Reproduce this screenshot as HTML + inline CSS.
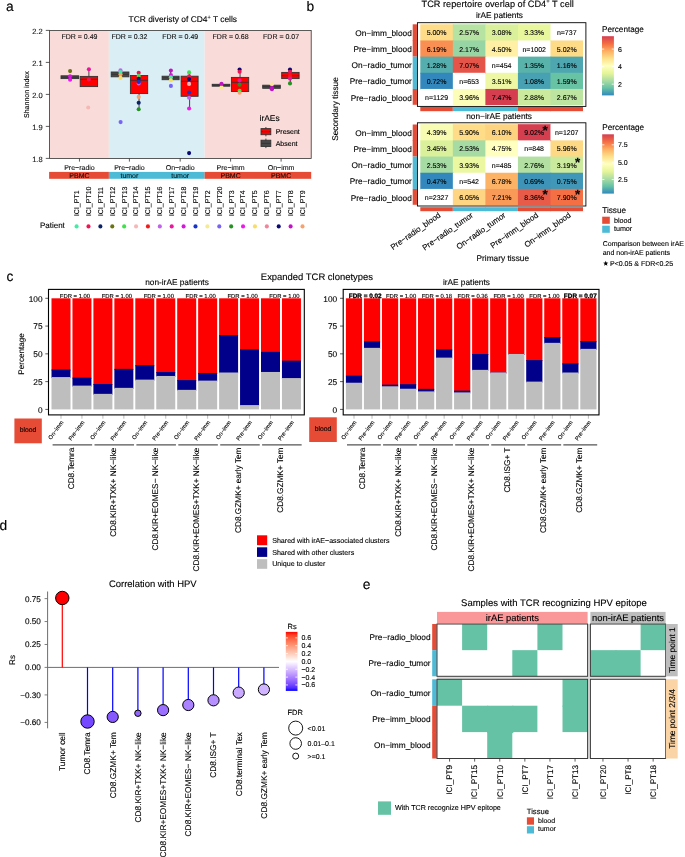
<!DOCTYPE html><html><head><meta charset="utf-8"><title>Figure</title><style>html,body{margin:0;padding:0;background:#fff;}svg{display:block;will-change:transform;text-rendering:geometricPrecision;font-family:"Liberation Sans",sans-serif;}text{stroke:#000;stroke-width:0.12px;}</style></head><body><svg width="685" height="857" viewBox="0 0 685 857"><rect x="0" y="0" width="685" height="857" fill="#fff"/><text x="6.00" y="11.40" font-size="13.8">a</text>
<text x="306.60" y="11.20" font-size="13.8">b</text>
<text x="6.40" y="281.10" font-size="13.8">c</text>
<text x="-0.60" y="530.30" font-size="13.8">d</text>
<text x="362.80" y="588.80" font-size="13.8">e</text>
<text x="182.80" y="21.90" font-size="8.42" text-anchor="middle">TCR diveristy of CD4<tspan font-size="5.5" dy="-3.2">+</tspan><tspan dy="3.2"> T cells</tspan></text>
<rect x="49.60" y="30.50" width="59.30" height="127.90" fill="#F9DCD9"/>
<rect x="108.90" y="30.50" width="95.70" height="127.90" fill="#DAEEF5"/>
<rect x="204.60" y="30.50" width="106.60" height="127.90" fill="#F9DCD9"/>
<rect x="49.60" y="30.50" width="261.60" height="127.90" fill="none" stroke="#333" stroke-width="0.8"/>
<line x1="45.80" y1="30.40" x2="49.60" y2="30.40" stroke="#333" stroke-width="0.8"/>
<text x="42.60" y="33.50" font-size="7.5" text-anchor="end" fill="#1a1a1a">2.2</text>
<line x1="45.80" y1="62.40" x2="49.60" y2="62.40" stroke="#333" stroke-width="0.8"/>
<text x="42.60" y="65.50" font-size="7.5" text-anchor="end" fill="#1a1a1a">2.1</text>
<line x1="45.80" y1="94.40" x2="49.60" y2="94.40" stroke="#333" stroke-width="0.8"/>
<text x="42.60" y="97.50" font-size="7.5" text-anchor="end" fill="#1a1a1a">2.0</text>
<line x1="45.80" y1="126.40" x2="49.60" y2="126.40" stroke="#333" stroke-width="0.8"/>
<text x="42.60" y="129.50" font-size="7.5" text-anchor="end" fill="#1a1a1a">1.9</text>
<line x1="45.80" y1="158.40" x2="49.60" y2="158.40" stroke="#333" stroke-width="0.8"/>
<text x="42.60" y="161.50" font-size="7.5" text-anchor="end" fill="#1a1a1a">1.8</text>
<text transform="translate(29.20,94.60) rotate(-90)" font-size="7.0" text-anchor="middle">Shannon index</text>
<line x1="79.45" y1="158.40" x2="79.45" y2="161.60" stroke="#333" stroke-width="0.8"/>
<text x="79.45" y="170.00" font-size="7.0" text-anchor="middle" fill="#1a1a1a">Pre−radio</text>
<line x1="129.40" y1="158.40" x2="129.40" y2="161.60" stroke="#333" stroke-width="0.8"/>
<text x="129.40" y="170.00" font-size="7.0" text-anchor="middle" fill="#1a1a1a">Pre−radio</text>
<line x1="180.20" y1="158.40" x2="180.20" y2="161.60" stroke="#333" stroke-width="0.8"/>
<text x="180.20" y="170.00" font-size="7.0" text-anchor="middle" fill="#1a1a1a">On−radio</text>
<line x1="230.60" y1="158.40" x2="230.60" y2="161.60" stroke="#333" stroke-width="0.8"/>
<text x="230.60" y="170.00" font-size="7.0" text-anchor="middle" fill="#1a1a1a">Pre−imm</text>
<line x1="281.10" y1="158.40" x2="281.10" y2="161.60" stroke="#333" stroke-width="0.8"/>
<text x="281.10" y="170.00" font-size="7.0" text-anchor="middle" fill="#1a1a1a">On−imm</text>
<rect x="49.10" y="171.90" width="59.80" height="6.90" fill="#E64B35"/>
<rect x="108.90" y="171.90" width="95.70" height="6.90" fill="#4DBBD5"/>
<rect x="204.60" y="171.90" width="106.60" height="6.90" fill="#E64B35"/>
<text x="79.45" y="177.60" font-size="7.0" text-anchor="middle" fill="#2a0a05">PBMC</text>
<text x="129.40" y="177.60" font-size="7.0" text-anchor="middle" fill="#0a2a33">tumor</text>
<text x="180.20" y="177.60" font-size="7.0" text-anchor="middle" fill="#0a2a33">tumor</text>
<text x="230.60" y="177.60" font-size="7.0" text-anchor="middle" fill="#2a0a05">PBMC</text>
<text x="281.10" y="177.60" font-size="7.0" text-anchor="middle" fill="#2a0a05">PBMC</text>
<text x="79.45" y="38.80" font-size="7.0" text-anchor="middle" fill="#1a1a1a">FDR = 0.49</text>
<text x="129.40" y="38.80" font-size="7.0" text-anchor="middle" fill="#1a1a1a">FDR = 0.32</text>
<text x="180.20" y="38.80" font-size="7.0" text-anchor="middle" fill="#1a1a1a">FDR = 0.49</text>
<text x="230.60" y="38.80" font-size="7.0" text-anchor="middle" fill="#1a1a1a">FDR = 0.68</text>
<text x="281.10" y="38.80" font-size="7.0" text-anchor="middle" fill="#1a1a1a">FDR = 0.07</text>
<rect x="61.00" y="75.80" width="17.70" height="2.80" fill="#474747" stroke="#333333" stroke-width="0.9"/>
<line x1="61.00" y1="77.20" x2="78.70" y2="77.20" stroke="#333333" stroke-width="0.9"/>
<line x1="88.90" y1="76.40" x2="88.90" y2="69.20" stroke="#333333" stroke-width="0.9"/>
<rect x="80.20" y="76.40" width="17.40" height="10.20" fill="#FF0000" stroke="#333333" stroke-width="0.9"/>
<line x1="80.20" y1="79.30" x2="97.60" y2="79.30" stroke="#333333" stroke-width="0.9"/>
<rect x="111.20" y="72.00" width="17.70" height="4.80" fill="#474747" stroke="#333333" stroke-width="0.9"/>
<line x1="111.20" y1="74.30" x2="128.90" y2="74.30" stroke="#333333" stroke-width="0.9"/>
<line x1="139.05" y1="75.50" x2="139.05" y2="72.80" stroke="#333333" stroke-width="0.9"/>
<line x1="139.05" y1="93.60" x2="139.05" y2="109.30" stroke="#333333" stroke-width="0.9"/>
<rect x="130.40" y="75.50" width="17.30" height="18.10" fill="#FF0000" stroke="#333333" stroke-width="0.9"/>
<line x1="130.40" y1="80.30" x2="147.70" y2="80.30" stroke="#333333" stroke-width="0.9"/>
<line x1="170.60" y1="76.20" x2="170.60" y2="70.60" stroke="#333333" stroke-width="0.9"/>
<rect x="162.10" y="76.20" width="17.00" height="3.50" fill="#474747" stroke="#333333" stroke-width="0.9"/>
<line x1="162.10" y1="77.80" x2="179.10" y2="77.80" stroke="#333333" stroke-width="0.9"/>
<line x1="189.60" y1="76.20" x2="189.60" y2="72.40" stroke="#333333" stroke-width="0.9"/>
<line x1="189.60" y1="96.30" x2="189.60" y2="108.50" stroke="#333333" stroke-width="0.9"/>
<rect x="181.10" y="76.20" width="17.00" height="20.10" fill="#FF0000" stroke="#333333" stroke-width="0.9"/>
<line x1="181.10" y1="81.30" x2="198.10" y2="81.30" stroke="#333333" stroke-width="0.9"/>
<rect x="212.20" y="84.30" width="17.60" height="1.90" fill="#474747" stroke="#333333" stroke-width="0.9"/>
<line x1="212.20" y1="85.20" x2="229.80" y2="85.20" stroke="#333333" stroke-width="0.9"/>
<line x1="240.05" y1="77.40" x2="240.05" y2="69.50" stroke="#333333" stroke-width="0.9"/>
<line x1="240.05" y1="91.50" x2="240.05" y2="92.80" stroke="#333333" stroke-width="0.9"/>
<rect x="231.40" y="77.40" width="17.30" height="14.10" fill="#FF0000" stroke="#333333" stroke-width="0.9"/>
<line x1="231.40" y1="82.30" x2="248.70" y2="82.30" stroke="#333333" stroke-width="0.9"/>
<rect x="262.70" y="85.20" width="17.60" height="3.10" fill="#474747" stroke="#333333" stroke-width="0.9"/>
<line x1="262.70" y1="86.60" x2="280.30" y2="86.60" stroke="#333333" stroke-width="0.9"/>
<line x1="290.40" y1="72.40" x2="290.40" y2="69.50" stroke="#333333" stroke-width="0.9"/>
<line x1="290.40" y1="78.60" x2="290.40" y2="83.40" stroke="#333333" stroke-width="0.9"/>
<rect x="281.70" y="72.40" width="17.40" height="6.20" fill="#FF0000" stroke="#333333" stroke-width="0.9"/>
<line x1="281.70" y1="75.70" x2="299.10" y2="75.70" stroke="#333333" stroke-width="0.9"/>
<circle cx="70.10" cy="71.10" r="2.05" fill="#6B7412"/>
<circle cx="70.10" cy="76.20" r="2.05" fill="#D616DC"/>
<circle cx="70.10" cy="79.80" r="2.05" fill="#EF18EC"/>
<circle cx="88.90" cy="69.20" r="2.05" fill="#EE149E"/>
<circle cx="88.90" cy="79.50" r="2.05" fill="#EF1553"/>
<circle cx="88.20" cy="107.50" r="2.05" fill="#F7B7B7"/>
<circle cx="120.50" cy="70.20" r="2.05" fill="#C262EE"/>
<circle cx="120.50" cy="74.20" r="2.05" fill="#F5A26E"/>
<circle cx="120.50" cy="72.00" r="2.05" fill="#43EBA5"/>
<circle cx="120.50" cy="77.90" r="2.05" fill="#F8DD66"/>
<circle cx="120.60" cy="122.10" r="2.05" fill="#7763F7"/>
<circle cx="138.70" cy="72.80" r="2.05" fill="#EF1553"/>
<circle cx="138.70" cy="75.90" r="2.05" fill="#3FE04A"/>
<circle cx="138.70" cy="78.80" r="2.05" fill="#0B2265"/>
<circle cx="138.70" cy="83.40" r="2.05" fill="#C262EE"/>
<circle cx="138.70" cy="81.90" r="2.05" fill="#1534CF"/>
<circle cx="138.70" cy="96.90" r="2.05" fill="#F5A26E"/>
<circle cx="138.70" cy="102.70" r="2.05" fill="#0B2265"/>
<circle cx="138.70" cy="109.30" r="2.05" fill="#249322"/>
<circle cx="170.90" cy="70.60" r="2.05" fill="#C013C3"/>
<circle cx="170.90" cy="75.00" r="2.05" fill="#D616DC"/>
<circle cx="170.90" cy="77.30" r="2.05" fill="#43EBA5"/>
<circle cx="170.90" cy="80.30" r="2.05" fill="#F8DD66"/>
<circle cx="170.90" cy="85.90" r="2.05" fill="#7763F7"/>
<circle cx="189.10" cy="72.40" r="2.05" fill="#3FE04A"/>
<circle cx="189.10" cy="76.40" r="2.05" fill="#EF1553"/>
<circle cx="189.10" cy="79.10" r="2.05" fill="#0A0A72"/>
<circle cx="189.10" cy="83.90" r="2.05" fill="#F7B7B7"/>
<circle cx="189.10" cy="92.50" r="2.05" fill="#1534CF"/>
<circle cx="189.10" cy="97.80" r="2.05" fill="#C262EE"/>
<circle cx="189.10" cy="108.50" r="2.05" fill="#EF18EC"/>
<circle cx="189.10" cy="153.10" r="2.05" fill="#0A0A72"/>
<circle cx="221.50" cy="87.20" r="2.05" fill="#F7EB92"/>
<circle cx="221.50" cy="83.70" r="2.05" fill="#C013C3"/>
<circle cx="239.60" cy="69.50" r="2.05" fill="#0A0A72"/>
<circle cx="239.60" cy="71.70" r="2.05" fill="#EF1553"/>
<circle cx="239.60" cy="80.40" r="2.05" fill="#EE149E"/>
<circle cx="239.60" cy="84.70" r="2.05" fill="#249322"/>
<circle cx="239.60" cy="90.70" r="2.05" fill="#3FE04A"/>
<circle cx="239.60" cy="92.80" r="2.05" fill="#F5A26E"/>
<circle cx="271.90" cy="84.30" r="2.05" fill="#F7EB92"/>
<circle cx="271.90" cy="87.70" r="2.05" fill="#C013C3"/>
<circle cx="271.90" cy="89.20" r="2.05" fill="#C013C3"/>
<circle cx="290.00" cy="69.50" r="2.05" fill="#0A0A72"/>
<circle cx="290.00" cy="71.70" r="2.05" fill="#EF1553"/>
<circle cx="290.00" cy="76.10" r="2.05" fill="#F51A1A"/>
<circle cx="290.00" cy="78.60" r="2.05" fill="#EE149E"/>
<circle cx="290.00" cy="83.40" r="2.05" fill="#249322"/>
<text x="259.60" y="121.30" font-size="8.4">irAEs</text>
<line x1="265.90" y1="127.00" x2="265.90" y2="136.30" stroke="#333333" stroke-width="0.9"/>
<rect x="261.00" y="128.60" width="9.80" height="6.10" fill="#FF0000" stroke="#333333" stroke-width="0.9"/>
<line x1="261.00" y1="131.65" x2="270.80" y2="131.65" stroke="#333333" stroke-width="0.9"/>
<text x="275.70" y="134.30" font-size="7.0">Present</text>
<line x1="265.90" y1="138.60" x2="265.90" y2="148.10" stroke="#333333" stroke-width="0.9"/>
<rect x="261.00" y="140.20" width="9.80" height="6.30" fill="#474747" stroke="#333333" stroke-width="0.9"/>
<line x1="261.00" y1="143.35" x2="270.80" y2="143.35" stroke="#333333" stroke-width="0.9"/>
<text x="275.70" y="145.90" font-size="7.0">Absent</text>
<text transform="translate(79.00,216.10) rotate(-90)" font-size="7.0">ICI_PT1</text>
<circle cx="76.60" cy="226.40" r="2.05" fill="#43EBA5"/>
<text transform="translate(90.89,216.10) rotate(-90)" font-size="7.0">ICI_PT10</text>
<circle cx="88.49" cy="226.40" r="2.05" fill="#EF1553"/>
<text transform="translate(102.78,216.10) rotate(-90)" font-size="7.0">ICI_PT11</text>
<circle cx="100.38" cy="226.40" r="2.05" fill="#0B2265"/>
<text transform="translate(114.67,216.10) rotate(-90)" font-size="7.0">ICI_PT12</text>
<circle cx="112.27" cy="226.40" r="2.05" fill="#6B7412"/>
<text transform="translate(126.56,216.10) rotate(-90)" font-size="7.0">ICI_PT13</text>
<circle cx="124.16" cy="226.40" r="2.05" fill="#3FE04A"/>
<text transform="translate(138.45,216.10) rotate(-90)" font-size="7.0">ICI_PT14</text>
<circle cx="136.05" cy="226.40" r="2.05" fill="#F7B7B7"/>
<text transform="translate(150.34,216.10) rotate(-90)" font-size="7.0">ICI_PT15</text>
<circle cx="147.94" cy="226.40" r="2.05" fill="#F51A1A"/>
<text transform="translate(162.23,216.10) rotate(-90)" font-size="7.0">ICI_PT16</text>
<circle cx="159.83" cy="226.40" r="2.05" fill="#C262EE"/>
<text transform="translate(174.12,216.10) rotate(-90)" font-size="7.0">ICI_PT17</text>
<circle cx="171.72" cy="226.40" r="2.05" fill="#EE149E"/>
<text transform="translate(186.01,216.10) rotate(-90)" font-size="7.0">ICI_PT18</text>
<circle cx="183.61" cy="226.40" r="2.05" fill="#D616DC"/>
<text transform="translate(197.90,216.10) rotate(-90)" font-size="7.0">ICI_PT19</text>
<circle cx="195.50" cy="226.40" r="2.05" fill="#1534CF"/>
<text transform="translate(209.79,216.10) rotate(-90)" font-size="7.0">ICI_PT2</text>
<circle cx="207.39" cy="226.40" r="2.05" fill="#F7EB92"/>
<text transform="translate(221.68,216.10) rotate(-90)" font-size="7.0">ICI_PT20</text>
<circle cx="219.28" cy="226.40" r="2.05" fill="#7763F7"/>
<text transform="translate(233.57,216.10) rotate(-90)" font-size="7.0">ICI_PT3</text>
<circle cx="231.17" cy="226.40" r="2.05" fill="#249322"/>
<text transform="translate(245.46,216.10) rotate(-90)" font-size="7.0">ICI_PT4</text>
<circle cx="243.06" cy="226.40" r="2.05" fill="#EF18EC"/>
<text transform="translate(257.35,216.10) rotate(-90)" font-size="7.0">ICI_PT5</text>
<circle cx="254.95" cy="226.40" r="2.05" fill="#F8DD66"/>
<text transform="translate(269.24,216.10) rotate(-90)" font-size="7.0">ICI_PT6</text>
<circle cx="266.84" cy="226.40" r="2.05" fill="#F0849A"/>
<text transform="translate(281.13,216.10) rotate(-90)" font-size="7.0">ICI_PT7</text>
<circle cx="278.73" cy="226.40" r="2.05" fill="#0A0A72"/>
<text transform="translate(293.02,216.10) rotate(-90)" font-size="7.0">ICI_PT8</text>
<circle cx="290.62" cy="226.40" r="2.05" fill="#C013C3"/>
<text transform="translate(304.91,216.10) rotate(-90)" font-size="7.0">ICI_PT9</text>
<circle cx="302.51" cy="226.40" r="2.05" fill="#F5A26E"/>
<text x="39.90" y="228.20" font-size="8.0">Patient</text>
<text x="421.60" y="6.70" font-size="9.2">TCR repertoire overlap of CD4<tspan font-size="6" dy="-3.4">+</tspan><tspan dy="3.4"> T cell</tspan></text>
<rect x="412.70" y="24.30" width="4.20" height="16.76" fill="#E64B35"/>
<text x="411.80" y="35.98" font-size="8.3" text-anchor="end">On−imm_blood</text>
<rect x="420.30" y="24.30" width="33.34" height="16.96" fill="#FEDC88"/>
<text x="436.57" y="35.38" font-size="7.0" text-anchor="middle">5.00%</text>
<rect x="452.84" y="24.30" width="33.34" height="16.96" fill="#B6E2A2"/>
<text x="469.11" y="35.38" font-size="7.0" text-anchor="middle">2.57%</text>
<rect x="485.38" y="24.30" width="33.34" height="16.96" fill="#DAF09A"/>
<text x="501.65" y="35.38" font-size="7.0" text-anchor="middle">3.08%</text>
<rect x="517.92" y="24.30" width="33.34" height="16.96" fill="#E8F69C"/>
<text x="534.19" y="35.38" font-size="7.0" text-anchor="middle">3.33%</text>
<rect x="550.46" y="24.30" width="32.54" height="16.16" fill="#FFFFFF"/>
<text x="566.73" y="35.38" font-size="7.0" text-anchor="middle">n=737</text>
<rect x="412.70" y="40.46" width="4.20" height="16.16" fill="#E64B35"/>
<text x="411.80" y="52.14" font-size="8.3" text-anchor="end">Pre−imm_blood</text>
<rect x="420.30" y="40.46" width="33.34" height="16.96" fill="#F98F53"/>
<text x="436.57" y="51.54" font-size="7.0" text-anchor="middle">6.19%</text>
<rect x="452.84" y="40.46" width="33.34" height="16.96" fill="#98D5A4"/>
<text x="469.11" y="51.54" font-size="7.0" text-anchor="middle">2.17%</text>
<rect x="485.38" y="40.46" width="33.34" height="16.96" fill="#FFF0A6"/>
<text x="501.65" y="51.54" font-size="7.0" text-anchor="middle">4.50%</text>
<rect x="517.92" y="40.46" width="32.54" height="16.16" fill="#FFFFFF"/>
<text x="534.19" y="51.54" font-size="7.0" text-anchor="middle">n=1002</text>
<rect x="550.46" y="40.46" width="32.54" height="16.96" fill="#FEDB87"/>
<text x="566.73" y="51.54" font-size="7.0" text-anchor="middle">5.02%</text>
<rect x="412.70" y="56.62" width="4.20" height="16.76" fill="#4DBBD5"/>
<text x="411.80" y="68.30" font-size="8.3" text-anchor="end">On−radio_tumor</text>
<rect x="420.30" y="56.62" width="33.34" height="16.96" fill="#55AEAD"/>
<text x="436.57" y="67.70" font-size="7.0" text-anchor="middle">1.28%</text>
<rect x="452.84" y="56.62" width="33.34" height="16.96" fill="#E45449"/>
<text x="469.11" y="67.70" font-size="7.0" text-anchor="middle">7.07%</text>
<rect x="485.38" y="56.62" width="32.54" height="16.16" fill="#FFFFFF"/>
<text x="501.65" y="67.70" font-size="7.0" text-anchor="middle">n=454</text>
<rect x="517.92" y="56.62" width="33.34" height="16.96" fill="#59B3AB"/>
<text x="534.19" y="67.70" font-size="7.0" text-anchor="middle">1.35%</text>
<rect x="550.46" y="56.62" width="32.54" height="16.96" fill="#4DA6B0"/>
<text x="566.73" y="67.70" font-size="7.0" text-anchor="middle">1.16%</text>
<rect x="412.70" y="72.78" width="4.20" height="16.16" fill="#4DBBD5"/>
<text x="411.80" y="84.46" font-size="8.3" text-anchor="end">Pre−radio_tumor</text>
<rect x="420.30" y="72.78" width="33.34" height="16.96" fill="#3288BD"/>
<text x="436.57" y="83.86" font-size="7.0" text-anchor="middle">0.72%</text>
<rect x="452.84" y="72.78" width="32.54" height="16.16" fill="#FFFFFF"/>
<text x="469.11" y="83.86" font-size="7.0" text-anchor="middle">n=653</text>
<rect x="485.38" y="72.78" width="33.34" height="16.96" fill="#EEF8A4"/>
<text x="501.65" y="83.86" font-size="7.0" text-anchor="middle">3.51%</text>
<rect x="517.92" y="72.78" width="33.34" height="16.96" fill="#48A1B3"/>
<text x="534.19" y="83.86" font-size="7.0" text-anchor="middle">1.08%</text>
<rect x="550.46" y="72.78" width="32.54" height="16.96" fill="#68C3A5"/>
<text x="566.73" y="83.86" font-size="7.0" text-anchor="middle">1.59%</text>
<rect x="412.70" y="88.94" width="4.20" height="15.86" fill="#E64B35"/>
<text x="411.80" y="100.62" font-size="8.3" text-anchor="end">Pre−radio_blood</text>
<rect x="420.30" y="88.94" width="32.54" height="16.16" fill="#FFFFFF"/>
<text x="436.57" y="100.02" font-size="7.0" text-anchor="middle">n=1129</text>
<rect x="452.84" y="88.94" width="33.34" height="16.16" fill="#FBFDB9"/>
<text x="469.11" y="100.02" font-size="7.0" text-anchor="middle">3.96%</text>
<rect x="485.38" y="88.94" width="33.34" height="16.16" fill="#D53E4F"/>
<text x="501.65" y="100.02" font-size="7.0" text-anchor="middle">7.47%</text>
<rect x="517.92" y="88.94" width="33.34" height="16.16" fill="#CCEA9D"/>
<text x="534.19" y="100.02" font-size="7.0" text-anchor="middle">2.88%</text>
<rect x="550.46" y="88.94" width="32.54" height="16.16" fill="#BDE4A0"/>
<text x="566.73" y="100.02" font-size="7.0" text-anchor="middle">2.67%</text>
<rect x="420.30" y="107.00" width="32.54" height="4.20" fill="#E64B35"/>
<rect x="452.84" y="107.00" width="33.14" height="4.20" fill="#4DBBD5"/>
<rect x="485.38" y="107.00" width="32.54" height="4.20" fill="#4DBBD5"/>
<rect x="517.92" y="107.00" width="33.14" height="4.20" fill="#E64B35"/>
<rect x="550.46" y="107.00" width="32.54" height="4.20" fill="#E64B35"/>
<rect x="417.40" y="22.70" width="168.50" height="83.70" fill="none" stroke="#000" stroke-width="0.9"/>
<text x="499.40" y="17.70" font-size="8.3" text-anchor="middle">irAE patients</text>
<rect x="412.70" y="124.50" width="4.20" height="16.48" fill="#E64B35"/>
<text x="411.80" y="135.89" font-size="8.3" text-anchor="end">On−imm_blood</text>
<rect x="420.30" y="124.20" width="33.34" height="16.98" fill="#F7FCB2"/>
<text x="436.57" y="135.29" font-size="7.0" text-anchor="middle">4.39%</text>
<rect x="452.84" y="124.20" width="33.34" height="16.98" fill="#FEDC88"/>
<text x="469.11" y="135.29" font-size="7.0" text-anchor="middle">5.90%</text>
<rect x="485.38" y="124.20" width="33.34" height="16.98" fill="#FED380"/>
<text x="501.65" y="135.29" font-size="7.0" text-anchor="middle">6.10%</text>
<rect x="517.92" y="124.20" width="33.34" height="16.98" fill="#D53E4F"/>
<text x="534.19" y="135.29" font-size="7.0" text-anchor="middle">9.02%</text>
<text x="545.09" y="134.69" font-size="13.5" text-anchor="middle" font-weight="bold">*</text>
<rect x="550.46" y="124.20" width="32.54" height="16.18" fill="#FFFFFF"/>
<text x="566.73" y="135.29" font-size="7.0" text-anchor="middle">n=1207</text>
<rect x="412.70" y="140.38" width="4.20" height="16.18" fill="#E64B35"/>
<text x="411.80" y="152.07" font-size="8.3" text-anchor="end">Pre−imm_blood</text>
<rect x="420.30" y="140.38" width="33.34" height="16.98" fill="#DAF09B"/>
<text x="436.57" y="151.47" font-size="7.0" text-anchor="middle">3.45%</text>
<rect x="452.84" y="140.38" width="33.34" height="16.98" fill="#A6DBA4"/>
<text x="469.11" y="151.47" font-size="7.0" text-anchor="middle">2.53%</text>
<rect x="485.38" y="140.38" width="33.34" height="16.98" fill="#FFFFBF"/>
<text x="501.65" y="151.47" font-size="7.0" text-anchor="middle">4.75%</text>
<rect x="517.92" y="140.38" width="32.54" height="16.18" fill="#FFFFFF"/>
<text x="534.19" y="151.47" font-size="7.0" text-anchor="middle">n=848</text>
<rect x="550.46" y="140.38" width="32.54" height="16.98" fill="#FED985"/>
<text x="566.73" y="151.47" font-size="7.0" text-anchor="middle">5.96%</text>
<rect x="412.70" y="156.56" width="4.20" height="16.78" fill="#4DBBD5"/>
<text x="411.80" y="168.25" font-size="8.3" text-anchor="end">On−radio_tumor</text>
<rect x="420.30" y="156.56" width="33.34" height="16.98" fill="#A6DBA4"/>
<text x="436.57" y="167.65" font-size="7.0" text-anchor="middle">2.53%</text>
<rect x="452.84" y="156.56" width="33.34" height="16.98" fill="#ECF7A1"/>
<text x="469.11" y="167.65" font-size="7.0" text-anchor="middle">3.93%</text>
<rect x="485.38" y="156.56" width="32.54" height="16.18" fill="#FFFFFF"/>
<text x="501.65" y="167.65" font-size="7.0" text-anchor="middle">n=485</text>
<rect x="517.92" y="156.56" width="33.34" height="16.98" fill="#B3E0A2"/>
<text x="534.19" y="167.65" font-size="7.0" text-anchor="middle">2.76%</text>
<rect x="550.46" y="156.56" width="32.54" height="16.98" fill="#CBEA9D"/>
<text x="566.73" y="167.65" font-size="7.0" text-anchor="middle">3.19%</text>
<text x="577.63" y="167.05" font-size="13.5" text-anchor="middle" font-weight="bold">*</text>
<rect x="412.70" y="172.74" width="4.20" height="16.18" fill="#4DBBD5"/>
<text x="411.80" y="184.43" font-size="8.3" text-anchor="end">Pre−radio_tumor</text>
<rect x="420.30" y="172.74" width="33.34" height="16.98" fill="#3288BD"/>
<text x="436.57" y="183.83" font-size="7.0" text-anchor="middle">0.47%</text>
<rect x="452.84" y="172.74" width="32.54" height="16.18" fill="#FFFFFF"/>
<text x="469.11" y="183.83" font-size="7.0" text-anchor="middle">n=542</text>
<rect x="485.38" y="172.74" width="33.34" height="16.98" fill="#FDB365"/>
<text x="501.65" y="183.83" font-size="7.0" text-anchor="middle">6.78%</text>
<rect x="517.92" y="172.74" width="33.34" height="16.98" fill="#3D94B8"/>
<text x="534.19" y="183.83" font-size="7.0" text-anchor="middle">0.69%</text>
<rect x="550.46" y="172.74" width="32.54" height="16.98" fill="#4097B7"/>
<text x="566.73" y="183.83" font-size="7.0" text-anchor="middle">0.75%</text>
<rect x="412.70" y="188.92" width="4.20" height="15.88" fill="#E64B35"/>
<text x="411.80" y="200.61" font-size="8.3" text-anchor="end">Pre−radio_blood</text>
<rect x="420.30" y="188.92" width="32.54" height="16.18" fill="#FFFFFF"/>
<text x="436.57" y="200.01" font-size="7.0" text-anchor="middle">n=2327</text>
<rect x="452.84" y="188.92" width="33.34" height="16.18" fill="#FED582"/>
<text x="469.11" y="200.01" font-size="7.0" text-anchor="middle">6.05%</text>
<rect x="485.38" y="188.92" width="33.34" height="16.18" fill="#FA9A58"/>
<text x="501.65" y="200.01" font-size="7.0" text-anchor="middle">7.21%</text>
<rect x="517.92" y="188.92" width="33.34" height="16.18" fill="#E85B48"/>
<text x="534.19" y="200.01" font-size="7.0" text-anchor="middle">8.36%</text>
<text x="545.09" y="199.41" font-size="13.5" text-anchor="middle" font-weight="bold">*</text>
<rect x="550.46" y="188.92" width="32.54" height="16.18" fill="#F47044"/>
<text x="566.73" y="200.01" font-size="7.0" text-anchor="middle">7.90%</text>
<text x="577.63" y="199.41" font-size="13.5" text-anchor="middle" font-weight="bold">*</text>
<rect x="420.30" y="207.20" width="32.54" height="4.00" fill="#E64B35"/>
<rect x="452.84" y="207.20" width="33.14" height="4.00" fill="#4DBBD5"/>
<rect x="485.38" y="207.20" width="32.54" height="4.00" fill="#4DBBD5"/>
<rect x="517.92" y="207.20" width="33.14" height="4.00" fill="#E64B35"/>
<rect x="550.46" y="207.20" width="32.54" height="4.00" fill="#E64B35"/>
<rect x="417.40" y="122.80" width="168.50" height="83.20" fill="none" stroke="#000" stroke-width="0.9"/>
<text x="499.10" y="119.20" font-size="8.3" text-anchor="middle">non−irAE patients</text>
<text transform="translate(441.17,216.40) rotate(-35)" font-size="8.0" text-anchor="end">Pre−radio_blood</text>
<text transform="translate(473.71,216.40) rotate(-35)" font-size="8.0" text-anchor="end">Pre−radio_tumor</text>
<text transform="translate(506.25,216.40) rotate(-35)" font-size="8.0" text-anchor="end">On−radio_tumor</text>
<text transform="translate(538.79,216.40) rotate(-35)" font-size="8.0" text-anchor="end">Pre−imm_blood</text>
<text transform="translate(571.33,216.40) rotate(-35)" font-size="8.0" text-anchor="end">On−imm_blood</text>
<text x="502.80" y="261.00" font-size="8.3" text-anchor="middle">Primary tissue</text>
<text transform="translate(337.70,109.00) rotate(-90)" font-size="8.3" text-anchor="middle">Secondary tissue</text>
<text x="602.00" y="31.50" font-size="8.2">Percentage</text>
<defs><linearGradient id="g1" x1="0" y1="1" x2="0" y2="0"><stop offset="0.0000" stop-color="#3288BD"/><stop offset="0.1250" stop-color="#66C2A5"/><stop offset="0.2500" stop-color="#ABDDA4"/><stop offset="0.3750" stop-color="#E6F598"/><stop offset="0.5000" stop-color="#FFFFBF"/><stop offset="0.6250" stop-color="#FEE08B"/><stop offset="0.7500" stop-color="#FDAE61"/><stop offset="0.8750" stop-color="#F46D43"/><stop offset="1.0000" stop-color="#D53E4F"/></linearGradient></defs>
<rect x="602.00" y="36.20" width="11.90" height="59.20" fill="url(#g1)"/>
<line x1="602.00" y1="49.09" x2="604.20" y2="49.09" stroke="#FFFFFF" stroke-width="0.8"/>
<line x1="611.70" y1="49.09" x2="613.90" y2="49.09" stroke="#FFFFFF" stroke-width="0.8"/>
<text x="617.90" y="51.59" font-size="7.0">6</text>
<line x1="602.00" y1="66.63" x2="604.20" y2="66.63" stroke="#FFFFFF" stroke-width="0.8"/>
<line x1="611.70" y1="66.63" x2="613.90" y2="66.63" stroke="#FFFFFF" stroke-width="0.8"/>
<text x="617.90" y="69.13" font-size="7.0">4</text>
<line x1="602.00" y1="84.17" x2="604.20" y2="84.17" stroke="#FFFFFF" stroke-width="0.8"/>
<line x1="611.70" y1="84.17" x2="613.90" y2="84.17" stroke="#FFFFFF" stroke-width="0.8"/>
<text x="617.90" y="86.67" font-size="7.0">2</text>
<text x="602.20" y="129.60" font-size="8.2">Percentage</text>
<defs><linearGradient id="g2" x1="0" y1="1" x2="0" y2="0"><stop offset="0.0000" stop-color="#3288BD"/><stop offset="0.1250" stop-color="#66C2A5"/><stop offset="0.2500" stop-color="#ABDDA4"/><stop offset="0.3750" stop-color="#E6F598"/><stop offset="0.5000" stop-color="#FFFFBF"/><stop offset="0.6250" stop-color="#FEE08B"/><stop offset="0.7500" stop-color="#FDAE61"/><stop offset="0.8750" stop-color="#F46D43"/><stop offset="1.0000" stop-color="#D53E4F"/></linearGradient></defs>
<rect x="602.20" y="134.30" width="11.70" height="59.30" fill="url(#g2)"/>
<line x1="602.20" y1="144.84" x2="604.40" y2="144.84" stroke="#FFFFFF" stroke-width="0.8"/>
<line x1="611.70" y1="144.84" x2="613.90" y2="144.84" stroke="#FFFFFF" stroke-width="0.8"/>
<text x="617.90" y="147.34" font-size="7.0">7.5</text>
<line x1="602.20" y1="162.18" x2="604.40" y2="162.18" stroke="#FFFFFF" stroke-width="0.8"/>
<line x1="611.70" y1="162.18" x2="613.90" y2="162.18" stroke="#FFFFFF" stroke-width="0.8"/>
<text x="617.90" y="164.68" font-size="7.0">5.0</text>
<line x1="602.20" y1="179.52" x2="604.40" y2="179.52" stroke="#FFFFFF" stroke-width="0.8"/>
<line x1="611.70" y1="179.52" x2="613.90" y2="179.52" stroke="#FFFFFF" stroke-width="0.8"/>
<text x="617.90" y="182.02" font-size="7.0">2.5</text>
<text x="602.20" y="213.00" font-size="8.2">Tissue</text>
<rect x="602.20" y="216.70" width="7.60" height="7.10" fill="#E64B35"/>
<text x="613.90" y="222.60" font-size="7.2">blood</text>
<rect x="602.20" y="225.70" width="7.60" height="7.10" fill="#4DBBD5"/>
<text x="613.90" y="231.30" font-size="7.2">tumor</text>
<text x="602.70" y="245.80" font-size="7.0">Comparison between irAE</text>
<text x="602.70" y="254.60" font-size="7.0">and non-irAE patients</text>
<polygon points="605.75,260.75 606.43,262.57 608.37,262.65 606.84,263.86 607.37,265.72 605.75,264.65 604.13,265.72 604.66,263.86 603.13,262.65 605.07,262.57" fill="#000"/>
<text x="610.00" y="265.80" font-size="7.0">P&lt;0.05 &amp; FDR&lt;0.25</text>
<text x="316.90" y="279.70" font-size="9.45" text-anchor="middle">Expanded TCR clonetypes</text>
<line x1="45.30" y1="298.30" x2="48.50" y2="298.30" stroke="#333" stroke-width="0.8"/>
<text x="42.50" y="301.50" font-size="8.3" text-anchor="end">100</text>
<line x1="45.30" y1="326.07" x2="48.50" y2="326.07" stroke="#333" stroke-width="0.8"/>
<text x="42.50" y="329.27" font-size="8.3" text-anchor="end">75</text>
<line x1="45.30" y1="353.85" x2="48.50" y2="353.85" stroke="#333" stroke-width="0.8"/>
<text x="42.50" y="357.05" font-size="8.3" text-anchor="end">50</text>
<line x1="45.30" y1="381.62" x2="48.50" y2="381.62" stroke="#333" stroke-width="0.8"/>
<text x="42.50" y="384.82" font-size="8.3" text-anchor="end">25</text>
<line x1="45.30" y1="409.40" x2="48.50" y2="409.40" stroke="#333" stroke-width="0.8"/>
<text x="42.50" y="412.60" font-size="8.3" text-anchor="end">0</text>
<rect x="51.50" y="298.30" width="19.00" height="72.22" fill="#FF0000"/>
<rect x="51.50" y="369.52" width="19.00" height="8.55" fill="#00008B"/>
<rect x="51.50" y="377.07" width="19.00" height="32.33" fill="#BEBEBE"/>
<line x1="61.00" y1="414.90" x2="61.00" y2="418.70" stroke="#AAAAAA" stroke-width="0.8"/>
<text transform="translate(63.80,422.40) rotate(-54)" font-size="5.7" text-anchor="end">On−imm</text>
<rect x="72.45" y="298.30" width="19.00" height="80.33" fill="#FF0000"/>
<rect x="72.45" y="377.63" width="19.00" height="9.00" fill="#00008B"/>
<rect x="72.45" y="385.62" width="19.00" height="23.78" fill="#BEBEBE"/>
<line x1="81.95" y1="414.90" x2="81.95" y2="418.70" stroke="#AAAAAA" stroke-width="0.8"/>
<text transform="translate(84.75,422.40) rotate(-54)" font-size="5.7" text-anchor="end">Pre−imm</text>
<rect x="93.40" y="298.30" width="19.00" height="86.66" fill="#FF0000"/>
<rect x="93.40" y="383.96" width="19.00" height="10.89" fill="#00008B"/>
<rect x="93.40" y="393.85" width="19.00" height="15.55" fill="#BEBEBE"/>
<line x1="102.90" y1="414.90" x2="102.90" y2="418.70" stroke="#AAAAAA" stroke-width="0.8"/>
<text transform="translate(105.70,422.40) rotate(-54)" font-size="5.7" text-anchor="end">On−imm</text>
<rect x="114.35" y="298.30" width="19.00" height="71.55" fill="#FF0000"/>
<rect x="114.35" y="368.85" width="19.00" height="20.00" fill="#00008B"/>
<rect x="114.35" y="387.85" width="19.00" height="21.55" fill="#BEBEBE"/>
<line x1="123.85" y1="414.90" x2="123.85" y2="418.70" stroke="#AAAAAA" stroke-width="0.8"/>
<text transform="translate(126.65,422.40) rotate(-54)" font-size="5.7" text-anchor="end">Pre−imm</text>
<rect x="135.30" y="298.30" width="19.00" height="67.88" fill="#FF0000"/>
<rect x="135.30" y="365.18" width="19.00" height="15.44" fill="#00008B"/>
<rect x="135.30" y="379.63" width="19.00" height="29.77" fill="#BEBEBE"/>
<line x1="144.80" y1="414.90" x2="144.80" y2="418.70" stroke="#AAAAAA" stroke-width="0.8"/>
<text transform="translate(147.60,422.40) rotate(-54)" font-size="5.7" text-anchor="end">On−imm</text>
<rect x="156.25" y="298.30" width="19.00" height="74.66" fill="#FF0000"/>
<rect x="156.25" y="371.96" width="19.00" height="5.00" fill="#00008B"/>
<rect x="156.25" y="375.96" width="19.00" height="33.44" fill="#BEBEBE"/>
<line x1="165.75" y1="414.90" x2="165.75" y2="418.70" stroke="#AAAAAA" stroke-width="0.8"/>
<text transform="translate(168.55,422.40) rotate(-54)" font-size="5.7" text-anchor="end">Pre−imm</text>
<rect x="177.20" y="298.30" width="19.00" height="82.77" fill="#FF0000"/>
<rect x="177.20" y="380.07" width="19.00" height="10.78" fill="#00008B"/>
<rect x="177.20" y="389.85" width="19.00" height="19.55" fill="#BEBEBE"/>
<line x1="186.70" y1="414.90" x2="186.70" y2="418.70" stroke="#AAAAAA" stroke-width="0.8"/>
<text transform="translate(189.50,422.40) rotate(-54)" font-size="5.7" text-anchor="end">On−imm</text>
<rect x="198.15" y="298.30" width="19.00" height="75.66" fill="#FF0000"/>
<rect x="198.15" y="372.96" width="19.00" height="8.67" fill="#00008B"/>
<rect x="198.15" y="380.63" width="19.00" height="28.77" fill="#BEBEBE"/>
<line x1="207.65" y1="414.90" x2="207.65" y2="418.70" stroke="#AAAAAA" stroke-width="0.8"/>
<text transform="translate(210.45,422.40) rotate(-54)" font-size="5.7" text-anchor="end">Pre−imm</text>
<rect x="219.10" y="298.30" width="19.00" height="37.89" fill="#FF0000"/>
<rect x="219.10" y="335.19" width="19.00" height="38.33" fill="#00008B"/>
<rect x="219.10" y="372.51" width="19.00" height="36.89" fill="#BEBEBE"/>
<line x1="228.60" y1="414.90" x2="228.60" y2="418.70" stroke="#AAAAAA" stroke-width="0.8"/>
<text transform="translate(231.40,422.40) rotate(-54)" font-size="5.7" text-anchor="end">On−imm</text>
<rect x="240.05" y="298.30" width="19.00" height="52.11" fill="#FF0000"/>
<rect x="240.05" y="349.41" width="19.00" height="56.66" fill="#00008B"/>
<rect x="240.05" y="405.07" width="19.00" height="4.33" fill="#BEBEBE"/>
<line x1="249.55" y1="414.90" x2="249.55" y2="418.70" stroke="#AAAAAA" stroke-width="0.8"/>
<text transform="translate(252.35,422.40) rotate(-54)" font-size="5.7" text-anchor="end">Pre−imm</text>
<rect x="261.00" y="298.30" width="19.00" height="54.55" fill="#FF0000"/>
<rect x="261.00" y="351.85" width="19.00" height="21.11" fill="#00008B"/>
<rect x="261.00" y="371.96" width="19.00" height="37.44" fill="#BEBEBE"/>
<line x1="270.50" y1="414.90" x2="270.50" y2="418.70" stroke="#AAAAAA" stroke-width="0.8"/>
<text transform="translate(273.30,422.40) rotate(-54)" font-size="5.7" text-anchor="end">On−imm</text>
<rect x="281.95" y="298.30" width="19.00" height="63.33" fill="#FF0000"/>
<rect x="281.95" y="360.63" width="19.00" height="18.44" fill="#00008B"/>
<rect x="281.95" y="378.07" width="19.00" height="31.33" fill="#BEBEBE"/>
<line x1="291.45" y1="414.90" x2="291.45" y2="418.70" stroke="#AAAAAA" stroke-width="0.8"/>
<text transform="translate(294.25,422.40) rotate(-54)" font-size="5.7" text-anchor="end">Pre−imm</text>
<rect x="48.50" y="289.40" width="255.80" height="125.50" fill="none" stroke="#000" stroke-width="1.1"/>
<text x="75.00" y="297.50" font-size="5.9" text-anchor="middle">FDR = 1.00</text>
<text x="116.90" y="297.50" font-size="5.9" text-anchor="middle">FDR = 1.00</text>
<text x="158.80" y="297.50" font-size="5.9" text-anchor="middle">FDR = 1.00</text>
<text x="200.70" y="297.50" font-size="5.9" text-anchor="middle">FDR = 1.00</text>
<text x="242.60" y="297.50" font-size="5.9" text-anchor="middle">FDR = 1.00</text>
<text x="284.50" y="297.50" font-size="5.9" text-anchor="middle">FDR = 1.00</text>
<text x="177.00" y="285.00" font-size="8.3" text-anchor="middle">non-irAE patients</text>
<line x1="52.60" y1="444.80" x2="92.15" y2="444.80" stroke="#555555" stroke-width="1.3"/>
<text transform="translate(73.77,447.60) rotate(-90)" font-size="8.25" text-anchor="end">CD8.Temra</text>
<line x1="94.50" y1="444.80" x2="134.05" y2="444.80" stroke="#555555" stroke-width="1.3"/>
<text transform="translate(115.67,447.60) rotate(-90)" font-size="8.25" text-anchor="end">CD8.KIR+TXK+ NK−like</text>
<line x1="136.40" y1="444.80" x2="175.95" y2="444.80" stroke="#555555" stroke-width="1.3"/>
<text transform="translate(157.58,447.60) rotate(-90)" font-size="8.25" text-anchor="end">CD8.KIR+EOMES− NK−like</text>
<line x1="178.30" y1="444.80" x2="217.85" y2="444.80" stroke="#555555" stroke-width="1.3"/>
<text transform="translate(199.47,447.60) rotate(-90)" font-size="8.25" text-anchor="end">CD8.KIR+EOMES+TXK+ NK−like</text>
<line x1="220.20" y1="444.80" x2="259.75" y2="444.80" stroke="#555555" stroke-width="1.3"/>
<text transform="translate(241.38,447.60) rotate(-90)" font-size="8.25" text-anchor="end">CD8.GZMK+ early Tem</text>
<line x1="262.10" y1="444.80" x2="301.65" y2="444.80" stroke="#555555" stroke-width="1.3"/>
<text transform="translate(283.28,447.60) rotate(-90)" font-size="8.25" text-anchor="end">CD8.GZMK+ Tem</text>
<line x1="340.00" y1="298.30" x2="343.20" y2="298.30" stroke="#333" stroke-width="0.8"/>
<text x="337.20" y="301.50" font-size="8.3" text-anchor="end">100</text>
<line x1="340.00" y1="326.07" x2="343.20" y2="326.07" stroke="#333" stroke-width="0.8"/>
<text x="337.20" y="329.27" font-size="8.3" text-anchor="end">75</text>
<line x1="340.00" y1="353.85" x2="343.20" y2="353.85" stroke="#333" stroke-width="0.8"/>
<text x="337.20" y="357.05" font-size="8.3" text-anchor="end">50</text>
<line x1="340.00" y1="381.62" x2="343.20" y2="381.62" stroke="#333" stroke-width="0.8"/>
<text x="337.20" y="384.82" font-size="8.3" text-anchor="end">25</text>
<line x1="340.00" y1="409.40" x2="343.20" y2="409.40" stroke="#333" stroke-width="0.8"/>
<text x="337.20" y="412.60" font-size="8.3" text-anchor="end">0</text>
<rect x="345.90" y="298.30" width="16.20" height="78.33" fill="#FF0000"/>
<rect x="345.90" y="375.63" width="16.20" height="8.11" fill="#00008B"/>
<rect x="345.90" y="382.74" width="16.20" height="26.66" fill="#BEBEBE"/>
<line x1="354.00" y1="414.90" x2="354.00" y2="418.70" stroke="#AAAAAA" stroke-width="0.8"/>
<text transform="translate(356.80,422.40) rotate(-54)" font-size="5.7" text-anchor="end">On−imm</text>
<rect x="363.93" y="298.30" width="16.20" height="44.11" fill="#FF0000"/>
<rect x="363.93" y="341.41" width="16.20" height="7.44" fill="#00008B"/>
<rect x="363.93" y="347.85" width="16.20" height="61.55" fill="#BEBEBE"/>
<line x1="372.03" y1="414.90" x2="372.03" y2="418.70" stroke="#AAAAAA" stroke-width="0.8"/>
<text transform="translate(374.83,422.40) rotate(-54)" font-size="5.7" text-anchor="end">Pre−imm</text>
<rect x="381.96" y="298.30" width="16.20" height="87.32" fill="#FF0000"/>
<rect x="381.96" y="384.62" width="16.20" height="2.67" fill="#00008B"/>
<rect x="381.96" y="386.29" width="16.20" height="23.11" fill="#BEBEBE"/>
<line x1="390.06" y1="414.90" x2="390.06" y2="418.70" stroke="#AAAAAA" stroke-width="0.8"/>
<text transform="translate(392.86,422.40) rotate(-54)" font-size="5.7" text-anchor="end">On−imm</text>
<rect x="399.99" y="298.30" width="16.20" height="86.88" fill="#FF0000"/>
<rect x="399.99" y="384.18" width="16.20" height="5.56" fill="#00008B"/>
<rect x="399.99" y="388.74" width="16.20" height="20.66" fill="#BEBEBE"/>
<line x1="408.09" y1="414.90" x2="408.09" y2="418.70" stroke="#AAAAAA" stroke-width="0.8"/>
<text transform="translate(410.89,422.40) rotate(-54)" font-size="5.7" text-anchor="end">Pre−imm</text>
<rect x="418.02" y="298.30" width="16.20" height="91.55" fill="#FF0000"/>
<rect x="418.02" y="388.85" width="16.20" height="3.56" fill="#00008B"/>
<rect x="418.02" y="391.40" width="16.20" height="18.00" fill="#BEBEBE"/>
<line x1="426.12" y1="414.90" x2="426.12" y2="418.70" stroke="#AAAAAA" stroke-width="0.8"/>
<text transform="translate(428.92,422.40) rotate(-54)" font-size="5.7" text-anchor="end">On−imm</text>
<rect x="436.05" y="298.30" width="16.20" height="52.11" fill="#FF0000"/>
<rect x="436.05" y="349.41" width="16.20" height="9.22" fill="#00008B"/>
<rect x="436.05" y="357.63" width="16.20" height="51.77" fill="#BEBEBE"/>
<line x1="444.15" y1="414.90" x2="444.15" y2="418.70" stroke="#AAAAAA" stroke-width="0.8"/>
<text transform="translate(446.95,422.40) rotate(-54)" font-size="5.7" text-anchor="end">Pre−imm</text>
<rect x="454.08" y="298.30" width="16.20" height="93.32" fill="#FF0000"/>
<rect x="454.08" y="390.62" width="16.20" height="2.78" fill="#00008B"/>
<rect x="454.08" y="392.40" width="16.20" height="17.00" fill="#BEBEBE"/>
<line x1="462.18" y1="414.90" x2="462.18" y2="418.70" stroke="#AAAAAA" stroke-width="0.8"/>
<text transform="translate(464.98,422.40) rotate(-54)" font-size="5.7" text-anchor="end">On−imm</text>
<rect x="472.11" y="298.30" width="16.20" height="56.66" fill="#FF0000"/>
<rect x="472.11" y="353.96" width="16.20" height="16.89" fill="#00008B"/>
<rect x="472.11" y="369.85" width="16.20" height="39.55" fill="#BEBEBE"/>
<line x1="480.21" y1="414.90" x2="480.21" y2="418.70" stroke="#AAAAAA" stroke-width="0.8"/>
<text transform="translate(483.01,422.40) rotate(-54)" font-size="5.7" text-anchor="end">Pre−imm</text>
<rect x="490.14" y="298.30" width="16.20" height="75.10" fill="#FF0000"/>
<rect x="490.14" y="372.40" width="16.20" height="1.00" fill="#00008B"/>
<rect x="490.14" y="372.40" width="16.20" height="37.00" fill="#BEBEBE"/>
<line x1="498.24" y1="414.90" x2="498.24" y2="418.70" stroke="#AAAAAA" stroke-width="0.8"/>
<text transform="translate(501.04,422.40) rotate(-54)" font-size="5.7" text-anchor="end">On−imm</text>
<rect x="508.17" y="298.30" width="16.20" height="56.66" fill="#FF0000"/>
<rect x="508.17" y="353.96" width="16.20" height="1.00" fill="#00008B"/>
<rect x="508.17" y="353.96" width="16.20" height="55.44" fill="#BEBEBE"/>
<line x1="516.27" y1="414.90" x2="516.27" y2="418.70" stroke="#AAAAAA" stroke-width="0.8"/>
<text transform="translate(519.07,422.40) rotate(-54)" font-size="5.7" text-anchor="end">Pre−imm</text>
<rect x="526.20" y="298.30" width="16.20" height="62.77" fill="#FF0000"/>
<rect x="526.20" y="360.07" width="16.20" height="22.55" fill="#00008B"/>
<rect x="526.20" y="381.62" width="16.20" height="27.77" fill="#BEBEBE"/>
<line x1="534.30" y1="414.90" x2="534.30" y2="418.70" stroke="#AAAAAA" stroke-width="0.8"/>
<text transform="translate(537.10,422.40) rotate(-54)" font-size="5.7" text-anchor="end">On−imm</text>
<rect x="544.23" y="298.30" width="16.20" height="39.88" fill="#FF0000"/>
<rect x="544.23" y="337.19" width="16.20" height="6.67" fill="#00008B"/>
<rect x="544.23" y="342.85" width="16.20" height="66.55" fill="#BEBEBE"/>
<line x1="552.33" y1="414.90" x2="552.33" y2="418.70" stroke="#AAAAAA" stroke-width="0.8"/>
<text transform="translate(555.13,422.40) rotate(-54)" font-size="5.7" text-anchor="end">Pre−imm</text>
<rect x="562.26" y="298.30" width="16.20" height="66.10" fill="#FF0000"/>
<rect x="562.26" y="363.40" width="16.20" height="10.11" fill="#00008B"/>
<rect x="562.26" y="372.51" width="16.20" height="36.89" fill="#BEBEBE"/>
<line x1="570.36" y1="414.90" x2="570.36" y2="418.70" stroke="#AAAAAA" stroke-width="0.8"/>
<text transform="translate(573.16,422.40) rotate(-54)" font-size="5.7" text-anchor="end">On−imm</text>
<rect x="580.29" y="298.30" width="16.20" height="43.88" fill="#FF0000"/>
<rect x="580.29" y="341.18" width="16.20" height="8.67" fill="#00008B"/>
<rect x="580.29" y="348.85" width="16.20" height="60.55" fill="#BEBEBE"/>
<line x1="588.39" y1="414.90" x2="588.39" y2="418.70" stroke="#AAAAAA" stroke-width="0.8"/>
<text transform="translate(591.19,422.40) rotate(-54)" font-size="5.7" text-anchor="end">Pre−imm</text>
<rect x="343.20" y="289.40" width="255.80" height="125.50" fill="none" stroke="#000" stroke-width="1.1"/>
<text x="365.20" y="297.50" font-size="6.4" text-anchor="middle" font-weight="bold" style="stroke-width:0.3px">FDR = 0.02</text>
<text x="401.05" y="297.50" font-size="5.9" text-anchor="middle">FDR = 1.00</text>
<text x="436.90" y="297.50" font-size="5.9" text-anchor="middle">FDR = 0.18</text>
<text x="472.75" y="297.50" font-size="5.9" text-anchor="middle">FDR = 0.36</text>
<text x="508.60" y="297.50" font-size="5.9" text-anchor="middle">FDR = 1.00</text>
<text x="544.45" y="297.50" font-size="5.9" text-anchor="middle">FDR = 1.00</text>
<text x="580.30" y="297.50" font-size="6.4" text-anchor="middle" font-weight="bold" style="stroke-width:0.3px">FDR = 0.07</text>
<text x="466.40" y="285.00" font-size="8.3" text-anchor="middle">irAE patients</text>
<line x1="347.00" y1="444.80" x2="380.83" y2="444.80" stroke="#555555" stroke-width="1.3"/>
<text transform="translate(365.31,447.60) rotate(-90)" font-size="8.25" text-anchor="end">CD8.Temra</text>
<line x1="383.06" y1="444.80" x2="416.89" y2="444.80" stroke="#555555" stroke-width="1.3"/>
<text transform="translate(401.38,447.60) rotate(-90)" font-size="8.25" text-anchor="end">CD8.KIR+TXK+ NK−like</text>
<line x1="419.12" y1="444.80" x2="452.95" y2="444.80" stroke="#555555" stroke-width="1.3"/>
<text transform="translate(437.44,447.60) rotate(-90)" font-size="8.25" text-anchor="end">CD8.KIR+EOMES− NK−like</text>
<line x1="455.18" y1="444.80" x2="489.01" y2="444.80" stroke="#555555" stroke-width="1.3"/>
<text transform="translate(473.50,447.60) rotate(-90)" font-size="8.25" text-anchor="end">CD8.KIR+EOMES+TXK+ NK−like</text>
<line x1="491.24" y1="444.80" x2="525.07" y2="444.80" stroke="#555555" stroke-width="1.3"/>
<text transform="translate(509.56,447.60) rotate(-90)" font-size="8.25" text-anchor="end">CD8.ISG+ T</text>
<line x1="527.30" y1="444.80" x2="561.13" y2="444.80" stroke="#555555" stroke-width="1.3"/>
<text transform="translate(545.62,447.60) rotate(-90)" font-size="8.25" text-anchor="end">CD8.GZMK+ early Tem</text>
<line x1="563.36" y1="444.80" x2="597.19" y2="444.80" stroke="#555555" stroke-width="1.3"/>
<text transform="translate(581.67,447.60) rotate(-90)" font-size="8.25" text-anchor="end">CD8.GZMK+ Tem</text>
<text transform="translate(23.60,354.00) rotate(-90)" font-size="8.1" text-anchor="middle">Percentage</text>
<rect x="14.40" y="418.50" width="27.40" height="24.80" fill="#E64B35"/>
<text x="28.10" y="431.90" font-size="6.8" text-anchor="middle" fill="#1a0500">blood</text>
<rect x="309.20" y="417.30" width="27.60" height="24.70" fill="#E64B35"/>
<text x="323.00" y="430.65" font-size="6.8" text-anchor="middle" fill="#1a0500">blood</text>
<rect x="257.00" y="535.30" width="10.20" height="9.90" fill="#FF0000"/>
<text x="272.20" y="542.60" font-size="7.1">Shared with irAE−associated clusters</text>
<rect x="257.00" y="547.30" width="10.20" height="9.60" fill="#00008B"/>
<text x="272.20" y="554.50" font-size="7.1">Shared with other clusters</text>
<rect x="257.00" y="559.20" width="10.20" height="9.60" fill="#BEBEBE"/>
<text x="272.20" y="566.40" font-size="7.1">Unique to cluster</text>
<text x="152.80" y="586.60" font-size="9.45" text-anchor="middle">Correlation with HPV</text>
<line x1="47.60" y1="591.50" x2="47.60" y2="728.30" stroke="#6E6E6E" stroke-width="1.0"/>
<line x1="47.60" y1="667.40" x2="279.00" y2="667.40" stroke="#6E6E6E" stroke-width="1.0"/>
<line x1="44.60" y1="598.62" x2="47.60" y2="598.62" stroke="#6E6E6E" stroke-width="0.9"/>
<text x="40.90" y="601.52" font-size="8.2" text-anchor="end">0.75</text>
<line x1="44.60" y1="621.55" x2="47.60" y2="621.55" stroke="#6E6E6E" stroke-width="0.9"/>
<text x="40.90" y="624.45" font-size="8.2" text-anchor="end">0.50</text>
<line x1="44.60" y1="644.48" x2="47.60" y2="644.48" stroke="#6E6E6E" stroke-width="0.9"/>
<text x="40.90" y="647.38" font-size="8.2" text-anchor="end">0.25</text>
<line x1="44.60" y1="667.40" x2="47.60" y2="667.40" stroke="#6E6E6E" stroke-width="0.9"/>
<text x="40.90" y="670.30" font-size="8.2" text-anchor="end">0.00</text>
<line x1="44.60" y1="694.91" x2="47.60" y2="694.91" stroke="#6E6E6E" stroke-width="0.9"/>
<text x="40.90" y="697.81" font-size="8.2" text-anchor="end">−0.30</text>
<line x1="44.60" y1="722.42" x2="47.60" y2="722.42" stroke="#6E6E6E" stroke-width="0.9"/>
<text x="40.90" y="725.32" font-size="8.2" text-anchor="end">−0.60</text>
<text transform="translate(15.30,659.90) rotate(-90)" font-size="8.2" text-anchor="middle">Rs</text>
<line x1="62.30" y1="667.40" x2="62.30" y2="597.98" stroke="#FF0000" stroke-width="1.2"/>
<circle cx="62.30" cy="597.98" r="6.70" fill="#FF0000" stroke="#000" stroke-width="1.0"/>
<text transform="translate(65.10,732.30) rotate(-90)" font-size="8.35" text-anchor="end">Tumor cell</text>
<line x1="87.50" y1="667.40" x2="87.50" y2="721.50" stroke="#0000FF" stroke-width="1.2"/>
<circle cx="87.50" cy="721.50" r="6.70" fill="#7549FF" stroke="#000" stroke-width="1.0"/>
<text transform="translate(90.30,732.30) rotate(-90)" font-size="8.35" text-anchor="end">CD8.Temra</text>
<line x1="112.70" y1="667.40" x2="112.70" y2="716.92" stroke="#0000FF" stroke-width="1.2"/>
<circle cx="112.70" cy="716.92" r="5.60" fill="#8659FF" stroke="#000" stroke-width="1.0"/>
<text transform="translate(115.50,732.30) rotate(-90)" font-size="8.35" text-anchor="end">CD8.GZMK+ Tem</text>
<line x1="137.90" y1="667.40" x2="137.90" y2="713.25" stroke="#0000FF" stroke-width="1.2"/>
<circle cx="137.90" cy="713.25" r="3.20" fill="#9265FF" stroke="#000" stroke-width="1.0"/>
<text transform="translate(140.70,732.30) rotate(-90)" font-size="8.35" text-anchor="end">CD8.KIR+TXK+ NK−like</text>
<line x1="163.10" y1="667.40" x2="163.10" y2="710.13" stroke="#0000FF" stroke-width="1.2"/>
<circle cx="163.10" cy="710.13" r="5.60" fill="#9B6FFF" stroke="#000" stroke-width="1.0"/>
<text transform="translate(165.90,732.30) rotate(-90)" font-size="8.35" text-anchor="end">CD8.KIR+EOMES+TXK+ NK−like</text>
<line x1="188.30" y1="667.40" x2="188.30" y2="705.00" stroke="#0000FF" stroke-width="1.2"/>
<circle cx="188.30" cy="705.00" r="5.60" fill="#AA81FF" stroke="#000" stroke-width="1.0"/>
<text transform="translate(191.10,732.30) rotate(-90)" font-size="8.35" text-anchor="end">CD8.KIR+EOMES− NK−like</text>
<line x1="213.50" y1="667.40" x2="213.50" y2="700.32" stroke="#0000FF" stroke-width="1.2"/>
<circle cx="213.50" cy="700.32" r="5.60" fill="#B790FF" stroke="#000" stroke-width="1.0"/>
<text transform="translate(216.30,732.30) rotate(-90)" font-size="8.35" text-anchor="end">CD8.ISG+ T</text>
<line x1="238.70" y1="667.40" x2="238.70" y2="692.62" stroke="#0000FF" stroke-width="1.2"/>
<circle cx="238.70" cy="692.62" r="5.60" fill="#CAAAFF" stroke="#000" stroke-width="1.0"/>
<text transform="translate(241.50,732.30) rotate(-90)" font-size="8.35" text-anchor="end">CD8.terminal Tex</text>
<line x1="263.90" y1="667.40" x2="263.90" y2="689.50" stroke="#0000FF" stroke-width="1.2"/>
<circle cx="263.90" cy="689.50" r="5.60" fill="#D1B4FF" stroke="#000" stroke-width="1.0"/>
<text transform="translate(266.70,732.30) rotate(-90)" font-size="8.35" text-anchor="end">CD8.GZMK+ early Tem</text>
<text x="287.50" y="629.30" font-size="7.5">Rs</text>
<defs><linearGradient id="g3" x1="0" y1="0" x2="0" y2="1"><stop offset="0.000" stop-color="#FF0000"/><stop offset="0.050" stop-color="#FF3E22"/><stop offset="0.100" stop-color="#FF5B3A"/><stop offset="0.150" stop-color="#FF7352"/><stop offset="0.200" stop-color="#FF8969"/><stop offset="0.250" stop-color="#FF9E81"/><stop offset="0.300" stop-color="#FFB299"/><stop offset="0.350" stop-color="#FFC6B2"/><stop offset="0.400" stop-color="#FFD9CB"/><stop offset="0.450" stop-color="#FFECE5"/><stop offset="0.500" stop-color="#FFFFFF"/><stop offset="0.550" stop-color="#F2E7FF"/><stop offset="0.600" stop-color="#E3D0FF"/><stop offset="0.650" stop-color="#D4B9FF"/><stop offset="0.700" stop-color="#C4A2FF"/><stop offset="0.750" stop-color="#B38BFF"/><stop offset="0.800" stop-color="#A074FF"/><stop offset="0.850" stop-color="#8A5DFF"/><stop offset="0.900" stop-color="#7145FF"/><stop offset="0.950" stop-color="#502BFF"/><stop offset="1.000" stop-color="#0000FF"/></linearGradient></defs>
<rect x="285.80" y="631.90" width="11.70" height="59.00" fill="url(#g3)"/>
<line x1="285.80" y1="637.85" x2="288.00" y2="637.85" stroke="#FFFFFF" stroke-width="0.8"/>
<line x1="295.30" y1="637.85" x2="297.50" y2="637.85" stroke="#FFFFFF" stroke-width="0.8"/>
<text x="301.40" y="640.35" font-size="7.0">0.6</text>
<line x1="285.80" y1="645.70" x2="288.00" y2="645.70" stroke="#FFFFFF" stroke-width="0.8"/>
<line x1="295.30" y1="645.70" x2="297.50" y2="645.70" stroke="#FFFFFF" stroke-width="0.8"/>
<text x="301.40" y="648.20" font-size="7.0">0.4</text>
<line x1="285.80" y1="653.55" x2="288.00" y2="653.55" stroke="#FFFFFF" stroke-width="0.8"/>
<line x1="295.30" y1="653.55" x2="297.50" y2="653.55" stroke="#FFFFFF" stroke-width="0.8"/>
<text x="301.40" y="656.05" font-size="7.0">0.2</text>
<line x1="285.80" y1="661.40" x2="288.00" y2="661.40" stroke="#FFFFFF" stroke-width="0.8"/>
<line x1="295.30" y1="661.40" x2="297.50" y2="661.40" stroke="#FFFFFF" stroke-width="0.8"/>
<text x="301.40" y="663.90" font-size="7.0">0.0</text>
<line x1="285.80" y1="669.25" x2="288.00" y2="669.25" stroke="#FFFFFF" stroke-width="0.8"/>
<line x1="295.30" y1="669.25" x2="297.50" y2="669.25" stroke="#FFFFFF" stroke-width="0.8"/>
<text x="301.40" y="671.75" font-size="7.0">−0.2</text>
<line x1="285.80" y1="677.10" x2="288.00" y2="677.10" stroke="#FFFFFF" stroke-width="0.8"/>
<line x1="295.30" y1="677.10" x2="297.50" y2="677.10" stroke="#FFFFFF" stroke-width="0.8"/>
<text x="301.40" y="679.60" font-size="7.0">−0.4</text>
<line x1="285.80" y1="684.95" x2="288.00" y2="684.95" stroke="#FFFFFF" stroke-width="0.8"/>
<line x1="295.30" y1="684.95" x2="297.50" y2="684.95" stroke="#FFFFFF" stroke-width="0.8"/>
<text x="301.40" y="687.45" font-size="7.0">−0.6</text>
<text x="287.50" y="714.70" font-size="7.5">FDR</text>
<circle cx="295.70" cy="728.10" r="7.00" fill="none" stroke="#000" stroke-width="0.9"/>
<text x="307.60" y="730.60" font-size="7.0">&lt;0.01</text>
<circle cx="295.70" cy="743.50" r="5.80" fill="none" stroke="#000" stroke-width="0.9"/>
<text x="307.60" y="746.00" font-size="7.0">0.01–0.1</text>
<circle cx="295.70" cy="756.10" r="3.00" fill="none" stroke="#000" stroke-width="0.9"/>
<text x="307.60" y="758.60" font-size="7.0">&gt;=0.1</text>
<text x="553.90" y="605.90" font-size="9.5" text-anchor="middle">Samples with TCR recognizing HPV epitope</text>
<rect x="437.00" y="611.90" width="150.60" height="11.60" fill="#F99799"/>
<text x="512.30" y="620.70" font-size="9.4" text-anchor="middle">irAE patients</text>
<rect x="590.40" y="611.90" width="75.20" height="11.60" fill="#BDBDBD"/>
<text x="628.00" y="620.70" font-size="9.4" text-anchor="middle">non-irAE patients</text>
<rect x="587.60" y="624.00" width="2.80" height="134.50" fill="#DCDCDC"/>
<rect x="437.00" y="676.30" width="228.60" height="3.00" fill="#DCDCDC"/>
<rect x="432.20" y="624.00" width="4.60" height="26.15" fill="#E64B35"/>
<text x="430.60" y="640.08" font-size="8.3" text-anchor="end">Pre−radio_blood</text>
<rect x="462.10" y="624.00" width="25.10" height="26.15" fill="#66C2A5"/>
<rect x="537.40" y="624.00" width="25.10" height="26.15" fill="#66C2A5"/>
<rect x="640.60" y="624.00" width="25.10" height="26.15" fill="#66C2A5"/>
<rect x="432.20" y="650.15" width="4.60" height="26.15" fill="#4DBBD5"/>
<text x="430.60" y="666.23" font-size="8.3" text-anchor="end">Pre−radio_tumor</text>
<rect x="512.30" y="650.15" width="25.10" height="26.15" fill="#66C2A5"/>
<rect x="590.40" y="650.15" width="26.10" height="26.15" fill="#66C2A5"/>
<rect x="615.50" y="650.15" width="25.10" height="26.15" fill="#66C2A5"/>
<rect x="437.00" y="624.00" width="150.60" height="52.30" fill="none" stroke="#3a3a3a" stroke-width="1.0"/>
<rect x="590.40" y="624.00" width="75.20" height="52.30" fill="none" stroke="#3a3a3a" stroke-width="1.0"/>
<rect x="665.80" y="624.00" width="11.90" height="52.30" fill="#BDBDBD"/>
<text transform="translate(675.20,650.15) rotate(-90)" font-size="8.4" text-anchor="middle">Time point 1</text>
<rect x="432.20" y="679.30" width="4.60" height="26.40" fill="#4DBBD5"/>
<text x="430.60" y="695.50" font-size="8.3" text-anchor="end">On−radio_tumor</text>
<rect x="437.00" y="679.30" width="25.10" height="26.40" fill="#66C2A5"/>
<rect x="562.50" y="679.30" width="25.10" height="27.40" fill="#66C2A5"/>
<rect x="432.20" y="705.70" width="4.60" height="27.00" fill="#E64B35"/>
<text x="430.60" y="721.90" font-size="8.3" text-anchor="end">Pre−imm_blood</text>
<rect x="462.10" y="705.70" width="26.10" height="26.40" fill="#66C2A5"/>
<rect x="487.20" y="705.70" width="26.10" height="27.40" fill="#66C2A5"/>
<rect x="512.30" y="705.70" width="25.10" height="26.40" fill="#66C2A5"/>
<rect x="562.50" y="705.70" width="25.10" height="26.40" fill="#66C2A5"/>
<rect x="432.20" y="732.10" width="4.60" height="26.40" fill="#E64B35"/>
<text x="430.60" y="748.30" font-size="8.3" text-anchor="end">On−imm_blood</text>
<rect x="487.20" y="732.10" width="25.10" height="26.40" fill="#66C2A5"/>
<rect x="437.00" y="679.30" width="150.60" height="79.20" fill="none" stroke="#3a3a3a" stroke-width="1.0"/>
<rect x="590.40" y="679.30" width="75.20" height="79.20" fill="none" stroke="#3a3a3a" stroke-width="1.0"/>
<rect x="665.80" y="679.30" width="11.90" height="79.20" fill="#FBD4A5"/>
<text transform="translate(675.20,718.90) rotate(-90)" font-size="8.4" text-anchor="middle">Time point 2/3/4</text>
<text transform="translate(452.35,764.90) rotate(-90)" font-size="8.15" text-anchor="end">ICI_PT9</text>
<line x1="449.55" y1="758.40" x2="449.55" y2="761.60" stroke="#333" stroke-width="0.8"/>
<text transform="translate(477.45,764.90) rotate(-90)" font-size="8.15" text-anchor="end">ICI_PT15</text>
<line x1="474.65" y1="758.40" x2="474.65" y2="761.60" stroke="#333" stroke-width="0.8"/>
<text transform="translate(502.55,764.90) rotate(-90)" font-size="8.15" text-anchor="end">ICI_PT10</text>
<line x1="499.75" y1="758.40" x2="499.75" y2="761.60" stroke="#333" stroke-width="0.8"/>
<text transform="translate(527.65,764.90) rotate(-90)" font-size="8.15" text-anchor="end">ICI_PT7</text>
<line x1="524.85" y1="758.40" x2="524.85" y2="761.60" stroke="#333" stroke-width="0.8"/>
<text transform="translate(552.75,764.90) rotate(-90)" font-size="8.15" text-anchor="end">ICI_PT17</text>
<line x1="549.95" y1="758.40" x2="549.95" y2="761.60" stroke="#333" stroke-width="0.8"/>
<text transform="translate(577.85,764.90) rotate(-90)" font-size="8.15" text-anchor="end">ICI_PT13</text>
<line x1="575.05" y1="758.40" x2="575.05" y2="761.60" stroke="#333" stroke-width="0.8"/>
<text transform="translate(605.75,764.90) rotate(-90)" font-size="8.15" text-anchor="end">ICI_PT20</text>
<line x1="602.95" y1="758.40" x2="602.95" y2="761.60" stroke="#333" stroke-width="0.8"/>
<text transform="translate(630.85,764.90) rotate(-90)" font-size="8.15" text-anchor="end">ICI_PT8</text>
<line x1="628.05" y1="758.40" x2="628.05" y2="761.60" stroke="#333" stroke-width="0.8"/>
<text transform="translate(655.95,764.90) rotate(-90)" font-size="8.15" text-anchor="end">ICI_PT18</text>
<line x1="653.15" y1="758.40" x2="653.15" y2="761.60" stroke="#333" stroke-width="0.8"/>
<rect x="378.00" y="801.40" width="13.00" height="13.40" fill="#66C2A5"/>
<text x="395.00" y="809.70" font-size="7.15">With TCR recognize HPV epitope</text>
<text x="526.80" y="813.60" font-size="7.6">Tissue</text>
<rect x="526.90" y="817.30" width="7.10" height="7.40" fill="#E64B35"/>
<text x="538.00" y="822.90" font-size="7.0">blood</text>
<rect x="526.90" y="826.20" width="7.10" height="7.30" fill="#4DBBD5"/>
<text x="538.00" y="831.40" font-size="7.0">tumor</text></svg></body></html>
